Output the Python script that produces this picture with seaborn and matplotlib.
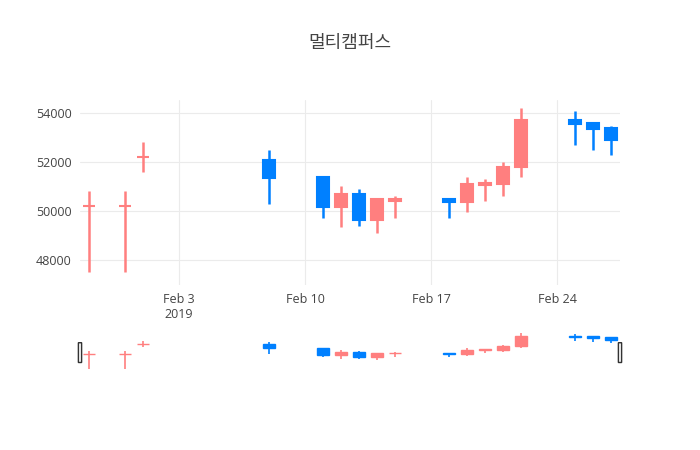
import matplotlib
matplotlib.use("Agg")
import matplotlib.pyplot as plt
import matplotlib.dates as mdates
import seaborn as sns
import pandas as pd
from matplotlib.patches import FancyBboxPatch

dates = ["2019-01-29", "2019-01-31", "2019-02-01", "2019-02-08", "2019-02-11", "2019-02-12",
         "2019-02-13", "2019-02-14", "2019-02-15", "2019-02-18", "2019-02-19", "2019-02-20",
         "2019-02-21", "2019-02-22", "2019-02-25", "2019-02-26", "2019-02-27"]
opens  = [50200, 50200, 52200, 52100, 51400, 50150, 50700, 49650, 50400, 50500, 50350, 51050, 51100, 51800, 53700, 53600, 53400]
closes = [50200, 50200, 52200, 51350, 50150, 50700, 49650, 50500, 50500, 50350, 51100, 51150, 51800, 53700, 53550, 53350, 52900]
highs  = [50800, 50800, 52800, 52500, 51400, 51000, 50900, 50500, 50600, 50500, 51400, 51300, 52000, 54200, 54100, 53600, 53450]
lows   = [47500, 47500, 51600, 50300, 49700, 49350, 49400, 49100, 49700, 49700, 49950, 50400, 50600, 51400, 52700, 52500, 52300]

df = pd.DataFrame({"date": pd.to_datetime(dates), "open": opens, "close": closes, "high": highs, "low": lows})
df["x"] = mdates.date2num(df["date"])
UP, DOWN = "#FF7F7F", "#0080FF"
df["color"] = [UP if c >= o else DOWN for o, c in zip(df["open"], df["close"])]

sns.set_theme(style="whitegrid")
plt.rcParams["font.family"] = ["Open Sans", "Noto Sans CJK KR", "DejaVu Sans"]

fig = plt.figure(figsize=(7, 4.5), dpi=100)
ax = fig.add_axes([80/700, 1-285/450, 540/700, 185/450])
rs = fig.add_axes([80/700, 1-370/450, 540/700, 38/450])

def draw(a, lw_wick, lw_edge):
    for _, r in df.iterrows():
        a.vlines(r["x"], r["low"], r["high"], color=r["color"], lw=lw_wick, zorder=2)
        lo, hi = min(r["open"], r["close"]), max(r["open"], r["close"])
        a.bar(r["x"], hi - lo, bottom=lo, width=0.62, color=r["color"], edgecolor=r["color"], lw=lw_edge, zorder=3)

draw(ax, 1.8, 1.5)
draw(rs, 1.2, 1.0)

x0 = mdates.date2num(pd.Timestamp("2019-01-28")) + 0.5
x1 = mdates.date2num(pd.Timestamp("2019-02-27")) + 0.5
ax.set_xlim(x0, x1)
ax.set_ylim(46980, 54530)
ax.set_yticks([48000, 50000, 52000, 54000])
ax.set_yticklabels(["48000", "50000", "52000", "54000"])
ticks = [pd.Timestamp(d) for d in ["2019-02-03", "2019-02-10", "2019-02-17", "2019-02-24"]]
ax.set_xticks(mdates.date2num(ticks))
ax.set_xticklabels(["Feb 3\n2019", "Feb 10", "Feb 17", "Feb 24"])
ax.set_facecolor("white")
ax.grid(True, color="#EBEBEB", lw=0.8)
for s in ax.spines.values():
    s.set_visible(False)
ax.tick_params(colors="#444444", labelsize=9, length=0, pad=6)

rs.set_xlim(x0, x1)
rs.set_ylim(47300, 54400)
rs.set_xticks([]); rs.set_yticks([])
rs.grid(False)
for s in rs.spines.values():
    s.set_visible(False)
for hx in (x0, x1):
    p = FancyBboxPatch((hx - 0.09, 48700), 0.18, 3700, boxstyle="round,pad=0,rounding_size=0.08",
                       facecolor="#F2F2F2", edgecolor="#333333", lw=1, transform=rs.transData, clip_on=False, zorder=5,
                       mutation_aspect=1)
    rs.add_patch(p)

fig.text(0.5, 1-43/450, "멀티캠퍼스", ha="center", va="center", fontsize=13, color="#444444",
         family=["Noto Sans CJK KR", "DejaVu Sans"])
fig.savefig("out.png", dpi=100, facecolor="white")
